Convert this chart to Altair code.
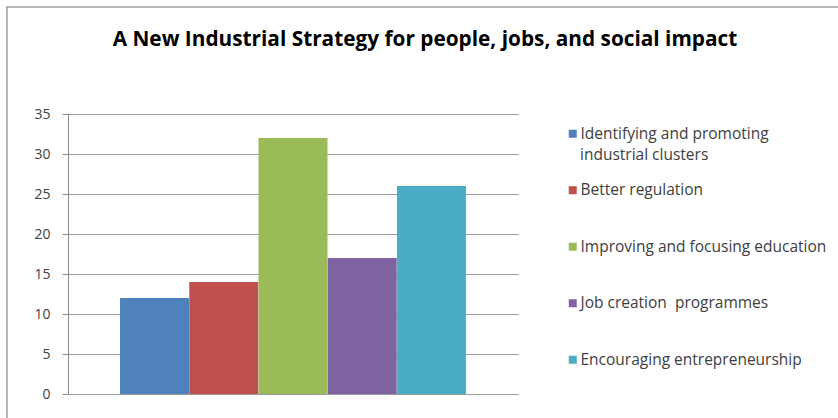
import altair as alt
import pandas as pd

TITLE = "A New Industrial Strategy for people, jobs, and social impact"
categories = [
    "Identifying and promoting industrial clusters",
    "Better regulation",
    "Improving and focusing education",
    "Job creation  programmes",
    "Encouraging entrepreneurship",
]
# display text of the first legend entry, split over two lines
first_label_lines = ["Identifying and promoting", "industrial clusters"]
values = [12, 14, 32, 17, 26]
colors = ["#4F81BD", "#C0504D", "#9BBB59", "#8064A2", "#4BACC6"]
y_ticks = [0, 5, 10, 15, 20, 25, 30, 35]

df = pd.DataFrame({"category": categories, "value": values})
title_df = pd.DataFrame({"t": [TITLE]})
wrap_df = pd.DataFrame({"t": [first_label_lines[1]]})
frame_df = pd.DataFrame({"k": ["frame"]})

FONT = "Open Sans"
LABEL_COLOR = "#404040"

bars = alt.Chart(df).mark_bar(size=69).encode(
    x=alt.X("category:N", sort=categories, axis=None,
            scale=alt.Scale(paddingInner=0, paddingOuter=0.75)),
    y=alt.Y("value:Q", title=None,
            scale=alt.Scale(domain=[0, 35], nice=False),
            axis=alt.Axis(values=y_ticks, grid=True, gridColor="#9a9a9a",
                          domainColor="#8a8a8a", tickColor="#8a8a8a",
                          tickSize=6, labelPadding=12, labelFontSize=14,
                          labelColor=LABEL_COLOR, labelFont=FONT)),
    color=alt.Color("category:N", sort=categories,
                    scale=alt.Scale(domain=categories, range=colors),
                    legend=alt.Legend(
                        title=None, orient="none", legendX=497, legendY=12,
                        symbolType="square", symbolSize=64, symbolStrokeWidth=0,
                        labelFontSize=15.5, labelFont=FONT, labelColor=LABEL_COLOR,
                        labelLimit=320, rowPadding=39.5, labelOffset=0,
                        labelExpr="datum.label == 'Identifying and promoting industrial clusters' ? 'Identifying and promoting' : replace(datum.label, '  ', ' \u00a0')",
                    )),
)

wrap_text = alt.Chart(wrap_df).mark_text(
    font=FONT, fontSize=15.5, color=LABEL_COLOR, align="left", baseline="middle"
).encode(text="t:N", x=alt.value(512), y=alt.value(41))

frame_top = alt.Chart(frame_df).mark_rule(color="#a0a0a0", strokeWidth=1.5).encode(
    x=alt.value(-62), x2=alt.value(770), y=alt.value(-107)
)
frame_left = alt.Chart(frame_df).mark_rule(color="#a0a0a0", strokeWidth=1.5).encode(
    x=alt.value(-61), y=alt.value(-107), y2=alt.value(304)
)
title = alt.Chart(title_df).mark_text(
    font=FONT, fontSize=20.8, fontWeight="bold", color="#000000",
    align="center", baseline="alphabetic"
).encode(text="t:N", x=alt.value(357), y=alt.value(-68))

chart = alt.layer(frame_top, frame_left, title, wrap_text, bars).properties(
    width=450, height=280,
    padding={"left": 68, "top": 114, "right": 320, "bottom": 24},
    autosize=alt.AutoSizeParams(type="none"),
).configure(background="white").configure_view(stroke=None)

chart.save("out.html", embed_options={"renderer": "svg", "actions": False})
